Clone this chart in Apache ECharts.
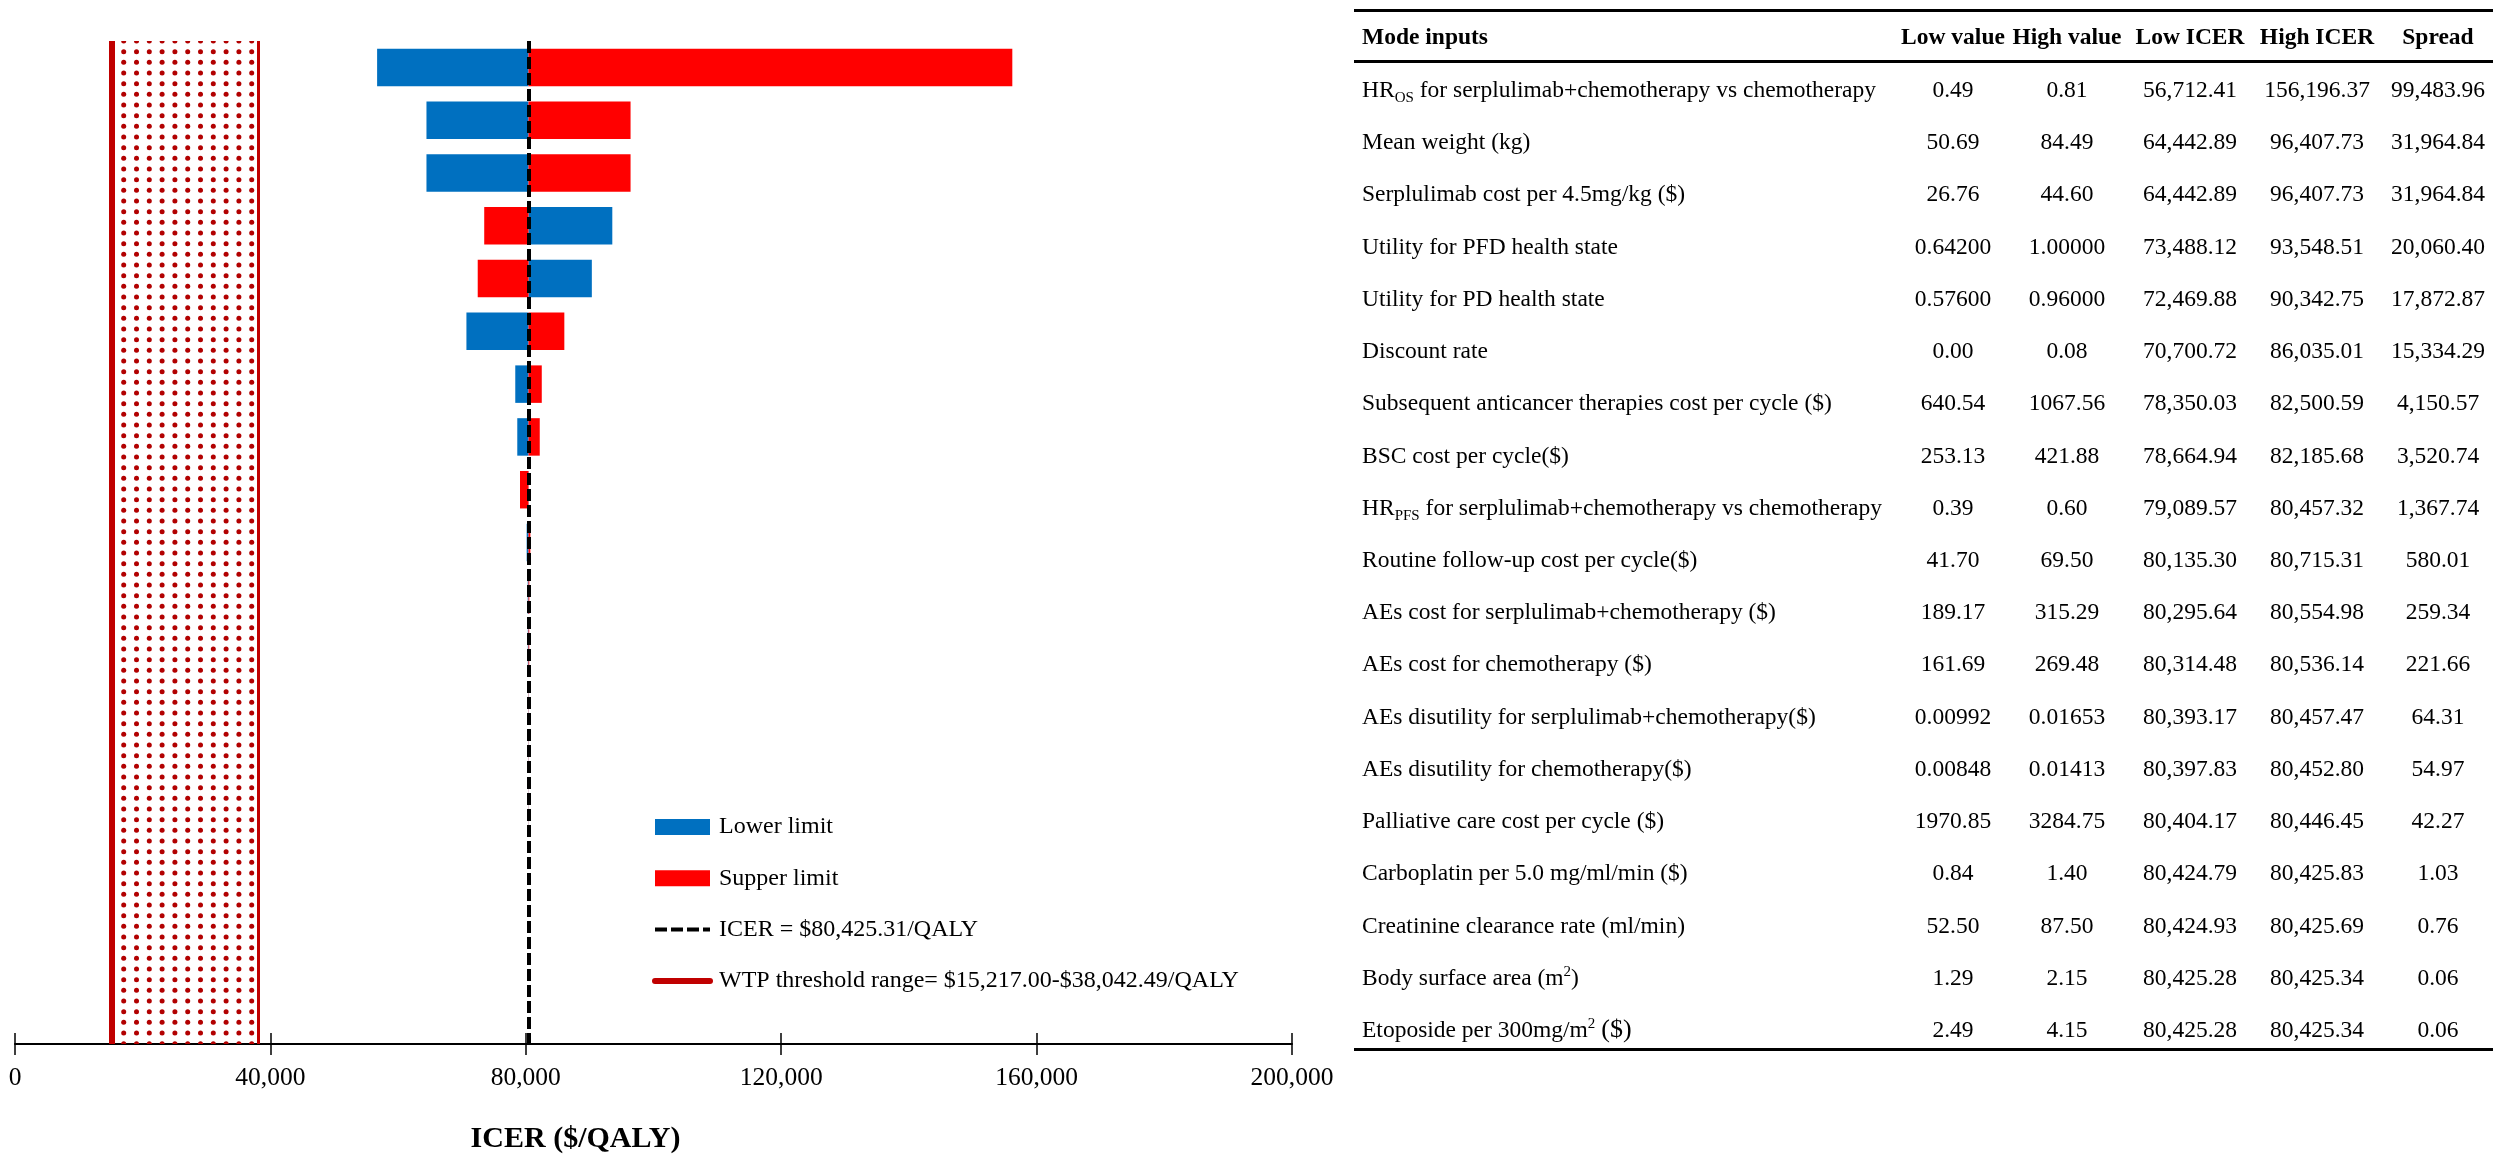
<!DOCTYPE html>
<html><head><meta charset="utf-8">
<script src="https://cdn.jsdelivr.net/npm/echarts@6/dist/echarts.min.js"></script>
<style>
html,body{margin:0;padding:0;background:#fff;}
#chart{position:absolute;left:0;top:0;width:2501px;height:1159px;}
#table{position:absolute;left:0;top:0;width:2501px;height:1159px;font-family:'Liberation Serif','Times New Roman',serif;font-size:23.5px;color:#000;pointer-events:none;}
.hline{position:absolute;left:1354px;width:1139px;height:2.5px;background:#000;}
.cell{position:absolute;white-space:nowrap;height:52px;line-height:52px;}
.c{width:150px;text-align:center;}
.b{font-weight:bold;}
.sub{font-size:15px;vertical-align:-5px;line-height:0;}
.sup{font-size:15px;vertical-align:9px;line-height:0;}
</style></head><body>
<div id="chart"></div><div id="table"></div>
<script>
// ---------------- data ----------------
const params = [
  'HR_OS for serplulimab+chemotherapy vs chemotherapy',
  'Mean weight (kg)',
  'Serplulimab cost per 4.5mg/kg ($)',
  'Utility for PFD health state',
  'Utility for PD health state',
  'Discount rate',
  'Subsequent anticancer therapies cost per cycle ($)',
  'BSC cost per cycle($)',
  'HR_PFS for serplulimab+chemotherapy vs chemotherapy',
  'Routine follow-up cost per cycle($)',
  'AEs cost for serplulimab+chemotherapy ($)',
  'AEs cost for chemotherapy ($)',
  'AEs disutility for serplulimab+chemotherapy($)',
  'AEs disutility for chemotherapy($)',
  'Palliative care cost per cycle ($)',
  'Carboplatin per 5.0 mg/ml/min ($)',
  'Creatinine clearance rate (ml/min)',
  'Body surface area (m2)',
  'Etoposide per 300mg/m2 ($)'
];
const paramLabelsHtml = [
  'HR<span class="sub">OS</span> for serplulimab+chemotherapy vs chemotherapy',
  'Mean weight (kg)',
  'Serplulimab cost per 4.5mg/kg ($)',
  'Utility for PFD health state',
  'Utility for PD health state',
  'Discount rate',
  'Subsequent anticancer therapies cost per cycle ($)',
  'BSC cost per cycle($)',
  'HR<span class="sub">PFS</span> for serplulimab+chemotherapy vs chemotherapy',
  'Routine follow-up cost per cycle($)',
  'AEs cost for serplulimab+chemotherapy ($)',
  'AEs cost for chemotherapy ($)',
  'AEs disutility for serplulimab+chemotherapy($)',
  'AEs disutility for chemotherapy($)',
  'Palliative care cost per cycle ($)',
  'Carboplatin per 5.0 mg/ml/min ($)',
  'Creatinine clearance rate (ml/min)',
  'Body surface area (m<span class="sup">2</span>)',
  'Etoposide per 300mg/m<span class="sup">2</span> <span style="font-size:26px">($)</span>'
];
const lowValues  = ['0.49','50.69','26.76','0.64200','0.57600','0.00','640.54','253.13','0.39','41.70','189.17','161.69','0.00992','0.00848','1970.85','0.84','52.50','1.29','2.49'];
const highValues = ['0.81','84.49','44.60','1.00000','0.96000','0.08','1067.56','421.88','0.60','69.50','315.29','269.48','0.01653','0.01413','3284.75','1.40','87.50','2.15','4.15'];
const lowICER  = [56712.41,64442.89,64442.89,73488.12,72469.88,70700.72,78350.03,78664.94,79089.57,80135.30,80295.64,80314.48,80393.17,80397.83,80404.17,80424.79,80424.93,80425.28,80425.28];
const highICER = [156196.37,96407.73,96407.73,93548.51,90342.75,86035.01,82500.59,82185.68,80457.32,80715.31,80554.98,80536.14,80457.47,80452.80,80446.45,80425.83,80425.69,80425.34,80425.34];
const spread   = [99483.96,31964.84,31964.84,20060.40,17872.87,15334.29,4150.57,3520.74,1367.74,580.01,259.34,221.66,64.31,54.97,42.27,1.03,0.76,0.06,0.06];
// true when the parameter's lower limit gives the higher ICER (blue bar on the right)
const lowerLimitGivesHighICER = [false,false,false,true,true,false,false,false,true,false,false,false,false,true,false,false,false,false,false];
const tableHeaders = ['Mode inputs','Low value','High value','Low ICER','High ICER','Spread'];
const BASE_ICER = 80425.31;
const WTP_LOW = 15217.00, WTP_HIGH = 38042.49;
const xTicks = [0, 40000, 80000, 120000, 160000, 200000];
const ICER_LABEL = 'ICER = $80,425.31/QALY';
const WTP_LABEL = 'WTP threshold range= $15,217.00-$38,042.49/QALY';

// ---------------- table ----------------
const fmt2 = v => v.toLocaleString('en-US',{minimumFractionDigits:2,maximumFractionDigits:2});
(function buildTable(){
  const t = document.getElementById('table');
  let h = '';
  [9, 60, 1048].forEach(y => { h += '<div class="hline" style="top:'+y+'px"></div>'; });
  const colCenters = [1953, 2067, 2190, 2317, 2438];
  const rowTop = c => (c - 26);
  h += '<div class="cell b" style="left:1362px;top:'+rowTop(36)+'px">'+tableHeaders[0]+'</div>';
  for (let k=1;k<6;k++) h += '<div class="cell c b" style="left:'+(colCenters[k-1]-75)+'px;top:'+rowTop(36)+'px">'+tableHeaders[k]+'</div>';
  for (let i=0;i<params.length;i++){
    const cy = 89 + i*52.22;
    const vals = [lowValues[i], highValues[i], fmt2(lowICER[i]), fmt2(highICER[i]), fmt2(spread[i])];
    h += '<div class="cell" style="left:1362px;top:'+rowTop(cy)+'px">'+paramLabelsHtml[i]+'</div>';
    for (let k=0;k<5;k++) h += '<div class="cell c" style="left:'+(colCenters[k]-75)+'px;top:'+rowTop(cy)+'px">'+vals[k]+'</div>';
  }
  t.innerHTML = h;
})();

// ---------------- chart ----------------
const blueData = params.map((p,i) => [i, lowerLimitGivesHighICER[i] ? highICER[i] : lowICER[i]]);
const redData  = params.map((p,i) => [i, lowerLimitGivesHighICER[i] ? lowICER[i] : highICER[i]]);

const tile = document.createElement('canvas');
tile.width = 64; tile.height = 32;
(function(){
  const g = tile.getContext('2d');
  g.fillStyle = '#B20000';
  const xs=[8.5,21.3,34.1,46.9,59.7], ys=[9.0,19.67,30.33];
  xs.forEach(x=>ys.forEach(y=>{
    [-64,0,64].forEach(dx=>[-32,0,32].forEach(dy=>{
      g.beginPath(); g.arc(x+dx,y+dy,2.5,0,Math.PI*2); g.fill();
    }));
  }));
})();

function renderBar(params, api){
  const cat = api.value(0), v = api.value(1);
  const p0 = api.coord([BASE_ICER, cat]);
  const p1 = api.coord([v, cat]);
  const h = api.size([0,1])[1]*0.71;
  return {type:'rect', shape:{x:Math.min(p0[0],p1[0]), y:p0[1]-h/2, width:Math.abs(p1[0]-p0[0]), height:h},
          style:{fill: api.visual('color')}};
}

const chart = echarts.init(document.getElementById('chart'));
const tickStyle = {color:'#000', width:1.5};
const hiddenSymbol = {color:'rgba(0,0,0,0)', opacity:0, borderWidth:0};
chart.setOption({
  animation:false,
  backgroundColor:'#fff',
  textStyle:{fontFamily:'Liberation Serif'},
  grid:{left:15, right:1209, top:41, bottom:115},
  xAxis:[{
    type:'value', min:xTicks[0], max:xTicks[xTicks.length-1], interval:xTicks[1]-xTicks[0], position:'bottom',
    axisLine:{show:true, onZero:false, lineStyle:{color:'#000', width:2}},
    axisTick:{show:true, length:11, lineStyle:tickStyle},
    axisLabel:{margin:21, fontSize:25.5, color:'#000', fontFamily:'Liberation Serif', formatter:v=>v.toLocaleString('en-US')},
    splitLine:{show:false},
    name:'ICER ($/QALY)', nameLocation:'middle', nameGap:80,
    nameTextStyle:{fontSize:30, fontWeight:'bold', color:'#000', fontFamily:'Liberation Serif', padding:[0,156,0,0]}
  },{
    type:'value', min:xTicks[0], max:xTicks[xTicks.length-1], interval:xTicks[1]-xTicks[0], position:'bottom',
    axisLine:{show:false, onZero:false}, axisTick:{show:true, inside:true, length:11, lineStyle:tickStyle},
    axisLabel:{show:false}, splitLine:{show:false}
  }],
  yAxis:{type:'category', data:params, inverse:true, show:false},
  legend:{
    orient:'vertical', left:652, top:815, padding:0, itemWidth:55, itemHeight:16, itemGap:27.3,
    textStyle:{fontSize:24, lineHeight:24, color:'#000', fontFamily:'Liberation Serif', padding:[0,0,0,4]},
    lineStyle:{width:'inherit'},
    selectedMode:false,
    data:[{name:'Lower limit', icon:'rect'},{name:'Supper limit', icon:'rect'},
          {name:ICER_LABEL, itemStyle:hiddenSymbol},{name:WTP_LABEL, itemStyle:hiddenSymbol}]
  },
  series:[
    {name:'Lower limit', type:'custom', renderItem:renderBar, itemStyle:{color:'#0070C0'}, data:blueData, encode:{x:1,y:0}, z:3},
    {name:'Supper limit', type:'custom', renderItem:renderBar, itemStyle:{color:'#FF0000'}, data:redData, encode:{x:1,y:0}, z:3},
    {name:WTP_LABEL, type:'line', data:[], symbol:'none', z:1,
      lineStyle:{color:'#C00000', width:6, cap:'round'}, itemStyle:{color:'#C00000'},
      markArea:{silent:true, itemStyle:{color:{image:tile, repeat:'repeat'}}, data:[[{xAxis:WTP_LOW},{xAxis:WTP_HIGH}]]},
      markLine:{silent:true, symbol:['none','none'], label:{show:false},
        data:[{xAxis:WTP_LOW, lineStyle:{width:6, color:'#C00000', type:'solid'}},
              {xAxis:WTP_HIGH, lineStyle:{width:3, color:'#C00000', type:'solid'}}]}},
    {name:ICER_LABEL, type:'line', data:[], symbol:'none', z:5,
      lineStyle:{color:'#000', width:4, type:[12,4]}, itemStyle:{color:'#000'},
      markLine:{silent:true, symbol:['none','none'], label:{show:false},
        lineStyle:{color:'#000', width:4, type:[12,4]}, data:[{xAxis:BASE_ICER}]}}
  ]
});
</script></body></html>
